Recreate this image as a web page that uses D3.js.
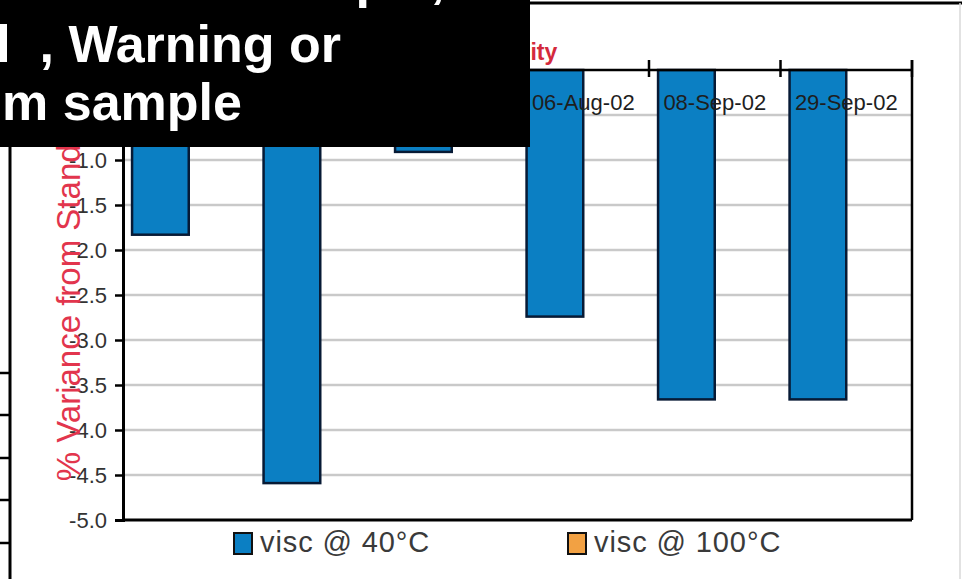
<!DOCTYPE html>
<html>
<head>
<meta charset="utf-8">
<script src="https://cdn.jsdelivr.net/npm/d3@7/dist/d3.min.js"></script>
<style>
  html, body { margin: 0; padding: 0; background: #fff; }
  svg { display: block; }
  text { font-family: "Liberation Sans", Arial, sans-serif; }
  .callout text { white-space: pre; }
</style>
</head>
<body>
<svg id="chart" width="962" height="579"></svg>
<script>
// Sample dates (category axis)
const categories = ["14-May-02", "18-Jun-02", "09-Jul-02", "06-Aug-02", "08-Sep-02", "29-Sep-02"];
// % variance from standard, kinematic viscosity at 40 °C
const visc40 = [-1.83, -4.59, -0.91, -2.74, -3.66, -3.66];
// % variance from standard, kinematic viscosity at 100 °C (no results reported)
const visc100 = [null, null, null, null, null, null];
// Series names and y-axis ticks
const seriesNames = ["visc @ 40°C", "visc @ 100°C"];
const yTicks = [0, -0.5, -1.0, -1.5, -2.0, -2.5, -3.0, -3.5, -4.0, -4.5, -5.0];
const chartTitle = "Viscosity";
const yTitle = "% Variance from Standard";
const calloutLines = ["Select the scope ,", "Normal  , Warning or", "Critical from sample"];

const seriesColors = ["#0b7fc3", "#f2a143"];

const svg = d3.select("#chart");

const plot = { left: 123, right: 912, top: 70, bottom: 520 };

const x = d3.scaleBand().domain(categories).range([plot.left, plot.right]).padding(0);
const xs = d3.scaleBand().domain(seriesNames).range([0, x.bandwidth()])
  .paddingInner(0).paddingOuter(0.16);
const y = d3.scaleLinear().domain([0, -5]).range([plot.top, plot.bottom]);

// Outer frame of the chart area
svg.append("line").attr("x1", 10).attr("x2", 962).attr("y1", 3).attr("y2", 3)
  .attr("stroke", "#000").attr("stroke-width", 3);
svg.append("line").attr("x1", 10).attr("x2", 10).attr("y1", 3).attr("y2", 579)
  .attr("stroke", "#000").attr("stroke-width", 3);
svg.append("line").attr("x1", 960).attr("x2", 960).attr("y1", 3).attr("y2", 579)
  .attr("stroke", "#d8d8d8").attr("stroke-width", 1.5);
// Neighbouring row markers left of the frame
svg.append("g").selectAll("line").data([373, 415, 458, 500, 543]).join("line")
  .attr("x1", 0).attr("x2", 10).attr("y1", d => d).attr("y2", d => d)
  .attr("stroke", "#000").attr("stroke-width", 2.5);

// Horizontal gridlines
svg.append("g").selectAll("line")
  .data(yTicks.filter(v => v !== 0 && v !== -5)).join("line")
  .attr("x1", plot.left).attr("x2", plot.right)
  .attr("y1", d => y(d)).attr("y2", d => y(d))
  .attr("stroke", "#c9c9c9").attr("stroke-width", 2.5);

// Bars
const groups = svg.append("g").selectAll("g").data(categories).join("g")
  .attr("transform", d => `translate(${x(d)},0)`);
const seriesData = [visc40, visc100];
groups.selectAll("rect")
  .data((c, i) => seriesNames.map((s, k) => ({ s, k, v: seriesData[k][i] })).filter(d => d.v !== null))
  .join("rect")
  .attr("x", d => xs(d.s))
  .attr("width", xs.bandwidth())
  .attr("y", d => y(Math.max(0, d.v)))
  .attr("height", d => Math.abs(y(d.v) - y(0)))
  .attr("fill", d => seriesColors[d.k])
  .attr("stroke", "#071a35").attr("stroke-width", 2.5);

// Plot border
svg.append("line").attr("x1", plot.left).attr("x2", plot.right).attr("y1", plot.bottom).attr("y2", plot.bottom)
  .attr("stroke", "#000").attr("stroke-width", 3);
svg.append("line").attr("x1", plot.right).attr("x2", plot.right).attr("y1", plot.top - 10).attr("y2", plot.bottom)
  .attr("stroke", "#000").attr("stroke-width", 2.5);

// Category axis along zero line (top)
const xAxis = svg.append("g");
xAxis.append("line").attr("x1", plot.left).attr("x2", plot.right).attr("y1", y(0)).attr("y2", y(0))
  .attr("stroke", "#000").attr("stroke-width", 2.5);
xAxis.selectAll("line.tick").data(categories).join("line").attr("class", "tick")
  .attr("x1", d => x(d) + x.bandwidth()).attr("x2", d => x(d) + x.bandwidth())
  .attr("y1", y(0) - 10).attr("y2", y(0) + 7)
  .attr("stroke", "#000").attr("stroke-width", 2.5);
xAxis.selectAll("text").data(categories).join("text")
  .attr("x", d => x(d) + x.bandwidth() / 2).attr("y", y(0) + 40)
  .attr("text-anchor", "middle").attr("font-size", 22).attr("fill", "#1e1e1e")
  .text(d => d);

// Value axis
const fmt = v => d3.format(".1f")(v).replace("\u2212", "-");
const yAxis = svg.append("g").attr("transform", `translate(${plot.left},0)`)
  .call(d3.axisLeft(y).tickValues(yTicks).tickFormat(fmt).tickSize(8).tickPadding(8));
yAxis.select(".domain").attr("stroke", "#000").attr("stroke-width", 3);
yAxis.selectAll(".tick line").attr("stroke", "#000").attr("stroke-width", 2.5);
yAxis.selectAll(".tick text").attr("font-size", 22).attr("fill", "#333")
  .attr("font-family", "Liberation Sans, Arial, sans-serif");

// Titles
svg.append("text").attr("x", 507).attr("y", 60).attr("text-anchor", "middle")
  .attr("font-size", 23).attr("font-weight", "bold").attr("fill", "#d42a3c")
  .text(chartTitle);
svg.append("text").attr("transform", `translate(80,289) rotate(-90)`)
  .attr("text-anchor", "middle").attr("font-size", 33).attr("fill", "#e2354d")
  .text(yTitle);

// Legend
const legend = svg.append("g").selectAll("g").data(seriesNames).join("g")
  .attr("transform", (d, i) => `translate(${[234, 568][i]},533)`);
legend.append("rect").attr("width", 18).attr("height", 21)
  .attr("fill", (d, i) => seriesColors[i]).attr("stroke", "#111").attr("stroke-width", 2);
legend.append("text").attr("x", 26).attr("y", 19).attr("font-size", 29)
  .attr("letter-spacing", 0.9).attr("fill", "#3a3a3a")
  .text(d => d);

// Callout box over the upper left corner
svg.append("rect").attr("x", 0).attr("y", 0).attr("width", 530).attr("height", 147).attr("fill", "#000");
const callout = svg.append("g").attr("class", "callout")
  .attr("font-size", 52).attr("font-weight", "bold").attr("fill", "#fff");
callout.selectAll("text").data(calloutLines).join("text")
  .attr("x", (d, i) => [445, 341, 242][i])
  .attr("y", (d, i) => [-3, 62, 120][i])
  .attr("text-anchor", "end")
  .text(d => d);
</script>
</body>
</html>
